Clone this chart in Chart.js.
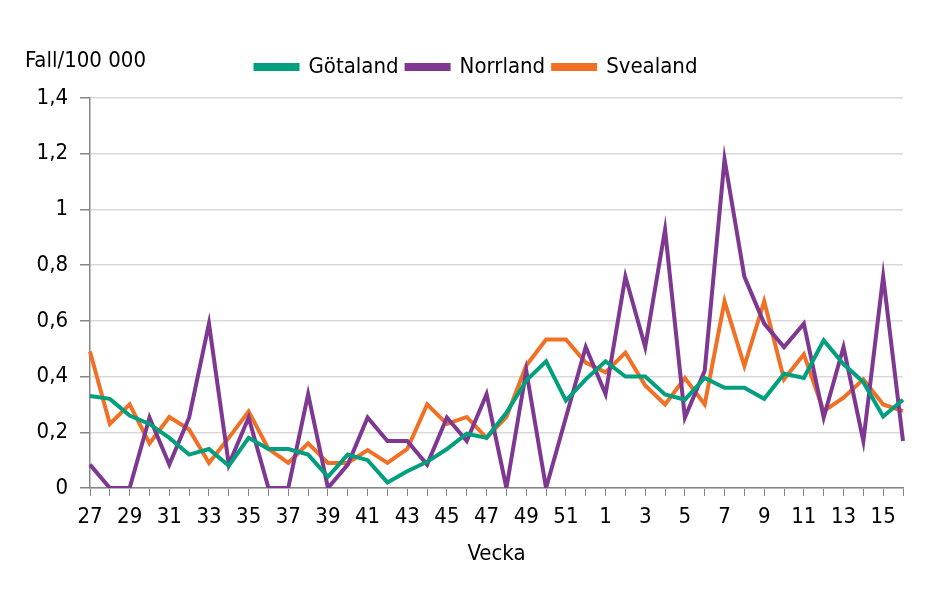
<!DOCTYPE html>
<html>
<head>
<meta charset="utf-8">
<script src="https://cdn.jsdelivr.net/npm/chart.js@4"></script>
<style>
html,body{margin:0;padding:0;background:#fff;}
#wrap{width:945px;height:590px;}
</style>
</head>
<body>
<div id="wrap"><canvas id="c" width="945" height="590"></canvas></div>
<script>
const weeks = ['27','28','29','30','31','32','33','34','35','36','37','38','39','40','41','42','43','44','45','46','47','48','49','50','51','52','1','2','3','4','5','6','7','8','9','10','11','12','13','14','15','16'];
const gotaland = [0.33,0.32,0.26,0.23,0.18,0.12,0.14,0.08,0.18,0.14,0.14,0.12,0.04,0.12,0.10,0.02,0.06,0.094,0.14,0.195,0.18,0.27,0.386,0.455,0.314,0.39,0.455,0.40,0.40,0.336,0.317,0.395,0.36,0.36,0.32,0.41,0.395,0.53,0.445,0.38,0.257,0.317];
const norrland = [0.084,0,0,0.253,0.084,0.253,0.59,0.084,0.253,0,0,0.337,0,0.084,0.253,0.169,0.169,0.084,0.253,0.169,0.337,0,0.421,0,0.253,0.506,0.337,0.759,0.506,0.927,0.253,0.421,1.18,0.759,0.59,0.506,0.59,0.253,0.506,0.169,0.759,0.169];
const svealand = [0.49,0.23,0.30,0.16,0.255,0.21,0.09,0.18,0.275,0.14,0.09,0.16,0.09,0.09,0.136,0.09,0.14,0.30,0.23,0.255,0.18,0.255,0.44,0.533,0.533,0.45,0.415,0.486,0.368,0.30,0.395,0.30,0.67,0.438,0.67,0.39,0.48,0.276,0.324,0.39,0.30,0.276];
const seriesNames = ['Götaland','Norrland','Svealand'];
const seriesColors = ['#00a07e','#7e3892','#f07025'];
const yTicks = [0,0.2,0.4,0.6,0.8,1,1.2,1.4];
const yTitle = 'Fall/100 000';
const xTitle = 'Vecka';

const FONT = '"DejaVu Sans Condensed","DejaVu Sans",sans-serif';
Chart.defaults.font.family = FONT;
Chart.defaults.color = '#000';

const yTitlePlugin = {
  id:'yTitle',
  beforeLayout(chart){
    const lg = chart.legend;
    if (lg && !lg._patched) {
      const orig = lg.fit;
      lg.fit = function(){ orig.call(this); this.height += 10; };
      lg._patched = true;
    }
  },
  afterLayout(chart){
    const lg = chart.legend;
    if (lg) { lg.left += 25; lg.right += 25; }
  },
  afterDraw(chart){
    const ctx = chart.ctx;
    ctx.save();
    ctx.font = '22px ' + FONT;
    ctx.fillStyle = '#000';
    ctx.textBaseline = 'middle';
    ctx.textAlign = 'left';
    ctx.fillText(yTitle, 25, 61);
    ctx.restore();
  }
};

const data = [gotaland, norrland, svealand];
new Chart(document.getElementById('c'), {
  type:'line',
  data:{
    labels:weeks,
    datasets: seriesNames.map((n,i)=>({
      label:n,
      data:data[i],
      borderColor:seriesColors[i],
      backgroundColor:seriesColors[i],
      borderWidth:4,
      pointRadius:0,
      tension:0,
      borderJoinStyle:'miter'
    }))
  },
  options:{
    responsive:false,
    animation:false,
    layout:{padding:{top:48,right:42,left:0,bottom:0}},
    plugins:{
      legend:{
        position:'top',
        labels:{
          boxWidth:42, boxHeight:4, padding:8,
          font:{size:22}, color:'#000'
        }
      },
      tooltip:{enabled:false}
    },
    scales:{
      x:{
        offset:false,
        afterFit(axis){ axis.height = 102; },
        grid:{display:true, drawOnChartArea:false, drawTicks:true, tickLength:8, color:'#868686', tickColor:'#868686'},
        border:{display:true, color:'#868686', width:1.5},
        ticks:{
          autoSkip:false, maxRotation:0, minRotation:0, padding:8,
          font:{size:22}, color:'#000',
          callback:function(v,i){ return i%2===0 ? this.getLabelForValue(v) : ''; }
        },
        title:{display:true, text:xTitle, font:{size:22}, color:'#000', padding:{top:10,bottom:23}}
      },
      y:{
        min:0, max:1.4,
        afterFit(axis){ axis.width = 90; },
        afterBuildTicks(axis){ axis.ticks = yTicks.map(v=>({value:v})); },
        grid:{color:'#d9d9d9', lineWidth:1.5, drawTicks:true, tickLength:10, tickColor:'#868686'},
        border:{display:true, color:'#868686', width:1.5},
        ticks:{
          padding:12, font:{size:22}, color:'#000',
          callback:v=> (Math.round(v*10)/10).toString().replace('.',',')
        }
      }
    }
  },
  plugins:[yTitlePlugin]
});
</script>
</body>
</html>
